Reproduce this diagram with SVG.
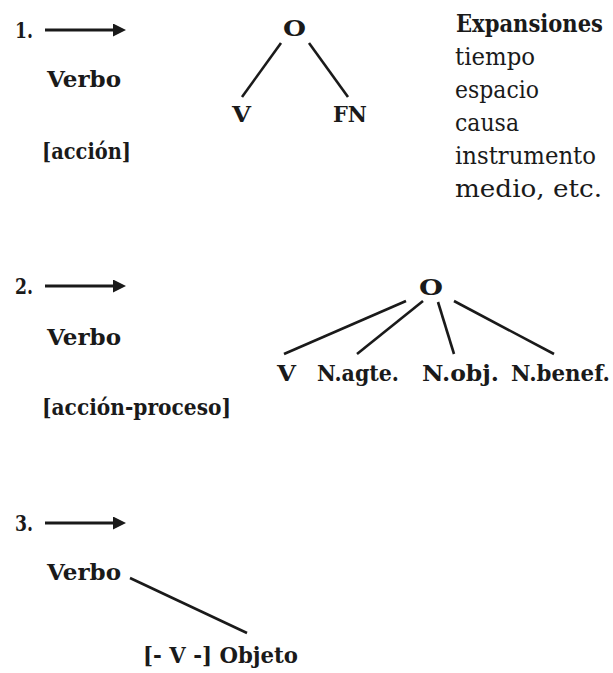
<svg xmlns="http://www.w3.org/2000/svg" width="613" height="673" viewBox="0 0 613 673">
<style>
.b{font-weight:bold;font-size:22px}
.n{font-weight:bold;font-size:22px}
.r{font-size:24px}
.h{font-weight:bold;font-size:24px}
.ln{stroke:#1a1a1a;stroke-width:2.6;fill:none}
.ar{stroke:#1a1a1a;stroke-width:3.2;fill:none}
</style>
<defs>
<marker id="ah" markerUnits="userSpaceOnUse" markerWidth="14" markerHeight="14" refX="5" refY="6.5" orient="auto">
<path d="M0,0 L13,6.5 L0,13 z" fill="#1a1a1a"/>
</marker>
</defs>
<rect width="613" height="673" fill="#fff"/>
<g id="connectors">
<line class="ar" x1="45" y1="30" x2="118" y2="30" marker-end="url(#ah)"/>
<line class="ln" x1="281" y1="43" x2="242" y2="97"/>
<line class="ln" x1="309" y1="43" x2="348" y2="97"/>
<line class="ar" x1="45" y1="286" x2="118" y2="286" marker-end="url(#ah)"/>
<line class="ln" x1="406" y1="301" x2="284" y2="354"/>
<line class="ln" x1="423" y1="301" x2="357" y2="354"/>
<line class="ln" x1="438" y1="302" x2="454" y2="354"/>
<line class="ln" x1="454" y1="301" x2="554" y2="354"/>
<line class="ar" x1="45" y1="523" x2="118" y2="523" marker-end="url(#ah)"/>
<line class="ln" x1="130" y1="578" x2="247" y2="633"/>
</g>
<g font-family="'DejaVu Serif', 'Liberation Serif', serif" fill="#1a1a1a">
<g id="s1-num"><text class="n" x="15" y="38" textLength="18" lengthAdjust="spacingAndGlyphs">1.</text></g>
<g id="s1-verbo"><text class="b" x="47" y="87" textLength="74" lengthAdjust="spacingAndGlyphs">Verbo</text></g>
<g id="s1-accion"><text class="b" x="42" y="159" textLength="89" lengthAdjust="spacingAndGlyphs">[acción]</text></g>
<g id="s1-O"><text class="b" x="283" y="36" textLength="23" lengthAdjust="spacingAndGlyphs">O</text></g>
<g id="s1-V"><text class="b" x="232" y="122" textLength="19" lengthAdjust="spacingAndGlyphs">V</text></g>
<g id="s1-FN"><text class="b" x="333" y="122" textLength="34" lengthAdjust="spacingAndGlyphs">FN</text></g>
<g id="expansiones">
<text class="h" x="603" y="32" text-anchor="end" textLength="147" lengthAdjust="spacingAndGlyphs">Expansiones</text>
<text class="r" x="455" y="65" textLength="80" lengthAdjust="spacingAndGlyphs">tiempo</text>
<text class="r" x="455" y="98" textLength="84" lengthAdjust="spacingAndGlyphs">espacio</text>
<text class="r" x="455" y="131" textLength="64" lengthAdjust="spacingAndGlyphs">causa</text>
<text class="r" x="455" y="164" textLength="141" lengthAdjust="spacingAndGlyphs">instrumento</text>
<text class="r" x="455" y="197" textLength="147" lengthAdjust="spacingAndGlyphs">medio, etc.</text>
</g>
<g id="s2-num"><text class="n" x="15" y="294" textLength="18" lengthAdjust="spacingAndGlyphs">2.</text></g>
<g id="s2-verbo"><text class="b" x="47" y="345" textLength="74" lengthAdjust="spacingAndGlyphs">Verbo</text></g>
<g id="s2-accion"><text class="b" x="42" y="415" textLength="189" lengthAdjust="spacingAndGlyphs">[acción-proceso]</text></g>
<g id="s2-O"><text class="b" x="419" y="295" textLength="24" lengthAdjust="spacingAndGlyphs">O</text></g>
<g id="s2-V"><text class="b" x="277" y="381" textLength="19" lengthAdjust="spacingAndGlyphs">V</text></g>
<g id="s2-nagte"><text class="b" x="317" y="381" textLength="82" lengthAdjust="spacingAndGlyphs">N.agte.</text></g>
<g id="s2-nobj"><text class="b" x="422" y="381" textLength="77" lengthAdjust="spacingAndGlyphs">N.obj.</text></g>
<g id="s2-nbenef"><text class="b" x="511" y="381" textLength="99" lengthAdjust="spacingAndGlyphs">N.benef.</text></g>
<g id="s3-num"><text class="n" x="15" y="531" textLength="18" lengthAdjust="spacingAndGlyphs">3.</text></g>
<g id="s3-verbo"><text class="b" x="47" y="580" textLength="74" lengthAdjust="spacingAndGlyphs">Verbo</text></g>
<g id="s3-objeto"><text class="b" x="143" y="663" textLength="155" lengthAdjust="spacingAndGlyphs">[- V -] Objeto</text></g>
</g>
</svg>
